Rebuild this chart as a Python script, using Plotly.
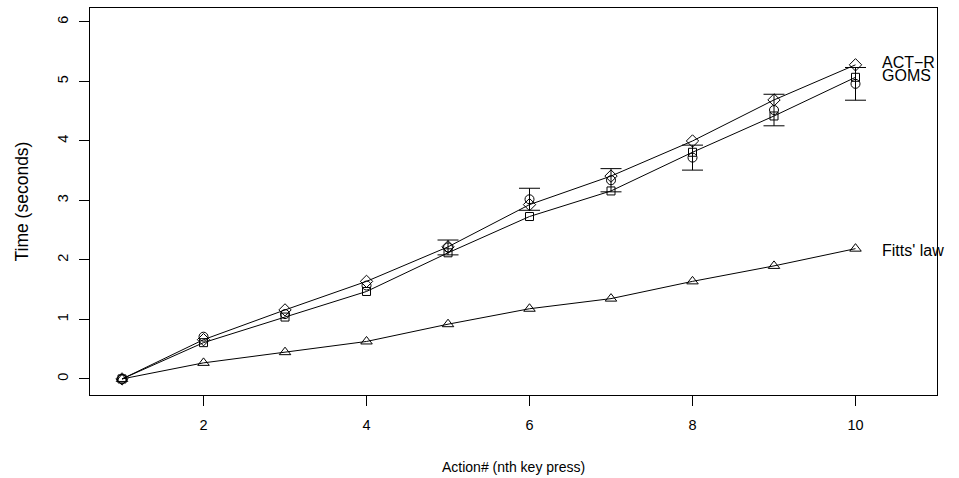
import plotly.graph_objects as go

actions = [1, 2, 3, 4, 5, 6, 7, 8, 9, 10]
actr = [0, 0.66, 1.16, 1.64, 2.22, 2.93, 3.41, 4.00, 4.69, 5.28]
goms = [0, 0.61, 1.04, 1.47, 2.12, 2.73, 3.16, 3.81, 4.42, 5.07]
fitts = [0, 0.27, 0.45, 0.63, 0.92, 1.18, 1.35, 1.64, 1.90, 2.19]
human = [0, 0.71, 1.09, 1.57, 2.21, 3.02, 3.34, 3.72, 4.52, 4.96]
human_err = [0, 0, 0, 0, 0.125, 0.185, 0.195, 0.21, 0.265, 0.275]

labels = ["ACT\u2212R", "GOMS", "Fitts' law"]
label_y = [5.32, 5.10, 2.16]
label_x = 10.3

FONT = "Liberation Sans, Arial, Helvetica, sans-serif"
BLK = "black"

fig = go.Figure()

line_style = dict(color=BLK, width=1)

fig.add_trace(go.Scatter(x=actions, y=fitts, mode="lines+markers", line=line_style,
                         marker=dict(symbol="triangle-up-open", size=10, color=BLK, line=dict(width=1, color=BLK)),
                         showlegend=False))
fig.add_trace(go.Scatter(x=actions, y=goms, mode="lines+markers", line=line_style,
                         marker=dict(symbol="square-open", size=8, color=BLK, line=dict(width=1, color=BLK)),
                         showlegend=False))
fig.add_trace(go.Scatter(x=actions, y=actr, mode="lines+markers", line=line_style,
                         marker=dict(symbol="diamond-open", size=9.5, color=BLK, line=dict(width=1, color=BLK)),
                         showlegend=False))
fig.add_trace(go.Scatter(x=actions, y=human, mode="markers",
                         marker=dict(symbol="circle-open", size=9, color=BLK, line=dict(width=1, color=BLK)),
                         showlegend=False))

# error bars only where an error is present
ex = [a for a, e in zip(actions, human_err) if e > 0]
ey = [h for h, e in zip(human, human_err) if e > 0]
ee = [e for e in human_err if e > 0]
fig.add_trace(go.Scatter(x=ex, y=ey, mode="markers", marker=dict(size=1, opacity=0),
                         error_y=dict(type="data", array=ee, visible=True, color=BLK,
                                      thickness=1, width=10.5),
                         showlegend=False, hoverinfo="skip"))

for t, y in zip(labels, label_y):
    fig.add_annotation(x=label_x, y=y, text=t, showarrow=False, xanchor="left",
                       yanchor="middle", font=dict(family=FONT, size=16, color=BLK))

fig.add_annotation(xref="paper", yref="paper", x=0.5, y=0, yshift=-72, text="Action# (nth key press)",
                   showarrow=False, xanchor="center", yanchor="middle",
                   font=dict(family=FONT, size=14, color=BLK))
fig.add_annotation(xref="paper", yref="paper", x=0, y=0.5, xshift=-69, text="Time (seconds)",
                   textangle=-90, showarrow=False, xanchor="center", yanchor="middle",
                   font=dict(family=FONT, size=17.5, color=BLK))

fig.update_layout(
    width=959, height=478,
    margin=dict(l=90, r=22, t=8, b=83),
    plot_bgcolor="white", paper_bgcolor="white",
    font=dict(family=FONT, size=14, color=BLK),
    showlegend=False,
)
fig.update_xaxes(range=[0.607, 11.0], tickvals=[2, 4, 6, 8, 10], ticks="outside", ticklen=10,
                 tickcolor=BLK, tickwidth=1, showgrid=False, zeroline=False,
                 showline=True, linecolor=BLK, linewidth=1, mirror=True,
                 ticklabelstandoff=7, tickfont=dict(family=FONT, size=14.5, color=BLK))
fig.update_yaxes(range=[-0.27, 6.235], tickvals=[0, 1, 2, 3, 4, 5, 6], ticks="outside", ticklen=10,
                 tickcolor=BLK, tickwidth=1, showgrid=False, zeroline=False,
                 showline=True, linecolor=BLK, linewidth=1, mirror=True, tickangle=-90,
                 ticklabelstandoff=5, tickfont=dict(family=FONT, size=14.5, color=BLK))

fig.write_html("out.html", config={"displayModeBar": False},
               post_script="document.body.style.margin='0';document.body.style.overflow='hidden';")
